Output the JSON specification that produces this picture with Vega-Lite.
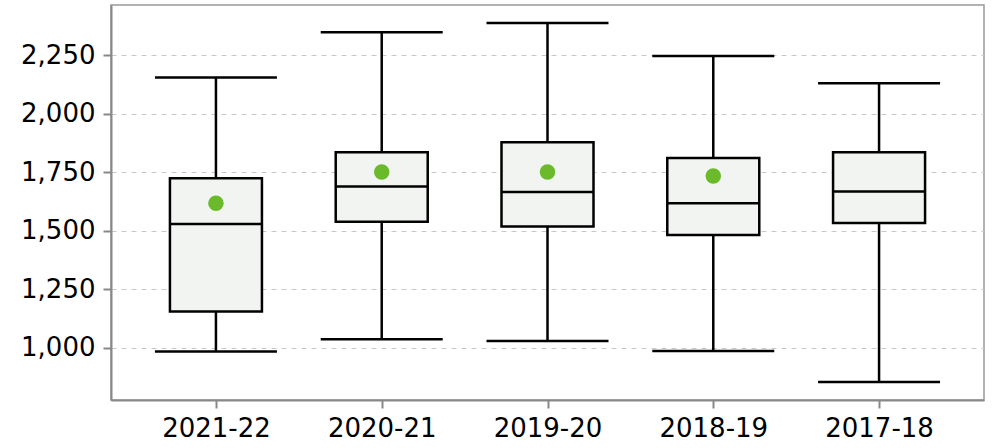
{
  "$schema": "https://vega.github.io/schema/vega-lite/v6.json",
  "autosize": {"type": "none"},
  "padding": {"left": 111, "top": 5, "right": 9, "bottom": 48},
  "width": 873,
  "height": 395,
  "config": {
    "font": "DejaVu Sans",
    "view": {"stroke": "#999999", "strokeWidth": 1.5},
    "axis": {"labelFont": "DejaVu Sans", "labelFontSize": 26, "labelColor": "#000000", "domainColor": "#888888", "domainWidth": 2, "tickColor": "#888888", "tickWidth": 2, "tickSize": 8, "title": null}
  },
  "data": {
    "values": [
      {"year": "2021-22", "min": 983, "q1": 1154, "median": 1528, "q3": 1724, "max": 2154, "mean": 1617},
      {"year": "2020-21", "min": 1036, "q1": 1538, "median": 1688, "q3": 1835, "max": 2348, "mean": 1750},
      {"year": "2019-20", "min": 1028, "q1": 1517, "median": 1665, "q3": 1878, "max": 2387, "mean": 1750},
      {"year": "2018-19", "min": 985, "q1": 1481, "median": 1617, "q3": 1810, "max": 2246, "mean": 1733},
      {"year": "2017-18", "min": 853, "q1": 1532, "median": 1667, "q3": 1835, "max": 2130, "mean": null}
    ]
  },
  "encoding": {
    "x": {"field": "year", "type": "nominal", "sort": null,
      "scale": {"type": "point", "padding": 0.633},
      "axis": {"labelAngle": 0, "labelPadding": 7, "grid": false}}
  },
  "layer": [
    {
      "mark": {"type": "rule", "color": "#000000", "strokeWidth": 2.5},
      "encoding": {
        "y": {"field": "min", "type": "quantitative",
          "scale": {"domain": [776, 2464], "nice": false, "zero": false},
          "axis": {"values": [1000, 1250, 1500, 1750, 2000, 2250], "format": ",d", "labelPadding": 8,
            "grid": true, "gridColor": "#c8c8c8", "gridDash": [5, 5], "gridWidth": 1}},
        "y2": {"field": "max"}
      }
    },
    {
      "mark": {"type": "tick", "color": "#000000", "thickness": 2.5, "size": 122, "opacity": 1},
      "encoding": {"y": {"field": "min", "type": "quantitative"}}
    },
    {
      "mark": {"type": "tick", "color": "#000000", "thickness": 2.5, "size": 122, "opacity": 1},
      "encoding": {"y": {"field": "max", "type": "quantitative"}}
    },
    {
      "mark": {"type": "bar", "size": 92, "fill": "#f2f4f2", "stroke": "#000000", "strokeWidth": 2.5},
      "encoding": {"y": {"field": "q1", "type": "quantitative"}, "y2": {"field": "q3"}}
    },
    {
      "mark": {"type": "tick", "color": "#000000", "thickness": 2.5, "size": 92, "opacity": 1},
      "encoding": {"y": {"field": "median", "type": "quantitative"}}
    },
    {
      "transform": [{"filter": "datum.mean != null"}],
      "mark": {"type": "circle", "color": "#6aba2c", "size": 240, "opacity": 1},
      "encoding": {"y": {"field": "mean", "type": "quantitative"}}
    }
  ]
}
